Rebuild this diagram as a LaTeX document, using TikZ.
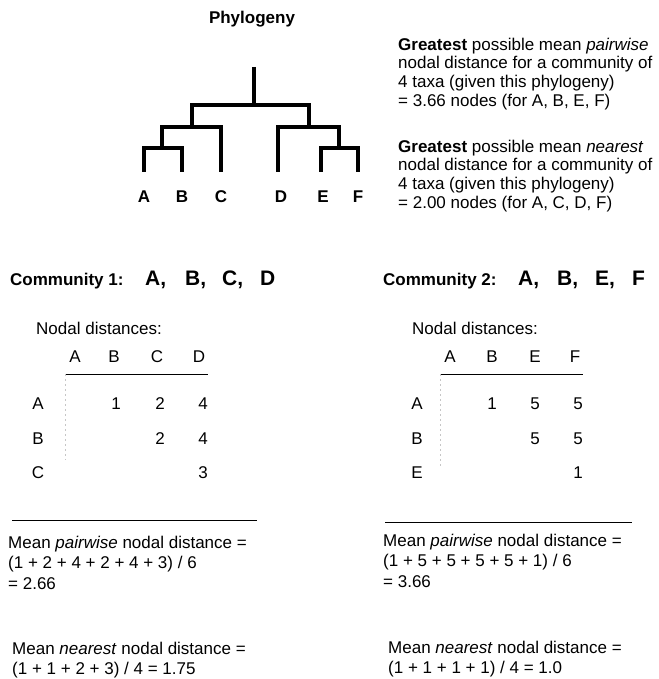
\documentclass[tikz,border=0pt]{standalone}
\usepackage{fontspec}
\setmainfont{Liberation Sans}

\begin{document}
\begin{tikzpicture}[x=1pt,y=-1pt,
    font=\fontsize{17}{18.7}\selectfont,
    branch/.style={line width=3.4pt},
    taxon/.style={font=\fontsize{17}{18.7}\selectfont\bfseries, inner sep=0},
    member/.style={font=\fontsize{21}{24}\selectfont\bfseries, inner sep=0, anchor=base west},
    cell/.style={inner sep=0, anchor=base},
    para/.style={inner sep=0, align=left, anchor=north west},
    sums/.style={para, font=\fontsize{17}{20.5}\selectfont},
    rule/.style={line width=0.8pt},
    faint/.style={gray!45, line width=0.5pt, dash pattern=on 2pt off 3pt}]

    \useasboundingbox (0,0) rectangle (658,679);

    % Phylogeny
    \node[taxon] (title) at (252,19) {Phylogeny};

    \coordinate (stem) at (254,67);
    \coordinate (root) at (254,105);
    \coordinate (abc) at (192,127);
    \coordinate (def) at (309,127);
    \coordinate (ab) at (162,148);
    \coordinate (ef) at (339,148);
    \foreach \t/\x in {a/144,b/182,c/221,d/278,e/321,f/358}
        \coordinate (\t) at (\x,172);

    \draw[branch] (stem) -- (root);
    \draw[branch] (root) -| (abc);
    \draw[branch] (root) -| (def);
    \draw[branch] (abc) -| (ab);
    \draw[branch] (abc) -| (c);
    \draw[branch] (ab) -| (a);
    \draw[branch] (ab) -| (b);
    \draw[branch] (def) -| (d);
    \draw[branch] (def) -| (ef);
    \draw[branch] (ef) -| (e);
    \draw[branch] (ef) -| (f);

    % Tip labels
    \foreach \t/\x in {A/144,B/182,C/221,D/281,E/323,F/358}
        \node[taxon] (lab\t) at (\x,197) {\t};

    % Maxima for this tree
    \node[para] (maxpair) at (398,37.5) {\textbf{Greatest} possible mean \textit{pairwise}\\
        nodal distance for a community of\\ 4 taxa (given this phylogeny)\\ = 3.66 nodes (for A, B, E, F)};
    \node[para] (maxnear) at (398,139.5) {\textbf{Greatest} possible mean \textit{nearest}\\
        nodal distance for a community of\\ 4 taxa (given this phylogeny)\\ = 2.00 nodes (for A, C, D, F)};

    % Community 1
    \node[cell, anchor=base west] (com1) at (10,285) {\textbf{Community 1:}};
    \node[member] (c1a) at (145,285) {A,};
    \node[member] (c1b) at (185,285) {B,};
    \node[member] (c1c) at (222,285) {C,};
    \node[member] (c1d) at (260,285) {D};

    \node[cell, anchor=base west] (nod1) at (36,334) {Nodal distances:};
    \foreach \t/\x in {A/75,B/114,C/157,D/199}
        \node[cell] (h1\t) at (\x,362) {\t};
    \foreach \t/\y in {A/409,B/444,C/478}
        \node[cell] (r1\t) at (38,\y) {\t};
    \coordinate (t1l) at (65,374);
    \coordinate (t1r) at (208,374);
    \coordinate (t1b) at (65,460);
    \draw[rule] (t1l) -- (t1r);
    \draw[faint] (t1l) -- (t1b);
    \node[cell] (d1ab) at (116,409) {1};
    \node[cell] (d1ac) at (160,409) {2};
    \node[cell] (d1ad) at (203,409) {4};
    \node[cell] (d1bc) at (160,444) {2};
    \node[cell] (d1bd) at (203,444) {4};
    \node[cell] (d1cd) at (203,478) {3};

    % Community 2
    \node[cell, anchor=base west] (com2) at (383,285) {\textbf{Community 2:}};
    \node[member] (c2a) at (518,285) {A,};
    \node[member] (c2b) at (557,285) {B,};
    \node[member] (c2e) at (595,285) {E,};
    \node[member] (c2f) at (632,285) {F};

    \node[cell, anchor=base west] (nod2) at (412,334) {Nodal distances:};
    \foreach \t/\x in {A/450,B/492,E/535,F/575}
        \node[cell] (h2\t) at (\x,362) {\t};
    \foreach \t/\y in {A/409,B/444,E/478}
        \node[cell] (r2\t) at (417,\y) {\t};
    \coordinate (t2l) at (440,374);
    \coordinate (t2r) at (583,374);
    \coordinate (t2b) at (440,468);
    \draw[rule] (t2l) -- (t2r);
    \draw[faint] (t2l) -- (t2b);
    \node[cell] (d2ab) at (492,409) {1};
    \node[cell] (d2ae) at (535,409) {5};
    \node[cell] (d2af) at (578,409) {5};
    \node[cell] (d2be) at (535,444) {5};
    \node[cell] (d2bf) at (578,444) {5};
    \node[cell] (d2ef) at (578,478) {1};

    % Means
    \coordinate (s1l) at (12,520);
    \coordinate (s1r) at (257,520);
    \draw[rule] (s1l) -- (s1r);
    \node[sums] (pair1) at (8,535.5) {Mean \textit{pairwise} nodal distance =\\
        (1 + 2 + 4 + 2 + 4 + 3) / 6\\ = 2.66};
    \node[sums] (near1) at (12,641.5) {Mean \textit{nearest} nodal distance =\\
        (1 + 1 + 2 + 3) / 4 = 1.75};

    \coordinate (s2l) at (385,522);
    \coordinate (s2r) at (632,522);
    \draw[rule] (s2l) -- (s2r);
    \node[sums] (pair2) at (383,533.5) {Mean \textit{pairwise} nodal distance =\\
        (1 + 5 + 5 + 5 + 5 + 1) / 6\\ = 3.66};
    \node[sums] (near2) at (388,640.5) {Mean \textit{nearest} nodal distance =\\
        (1 + 1 + 1 + 1) / 4 = 1.0};
\end{tikzpicture}
\end{document}
